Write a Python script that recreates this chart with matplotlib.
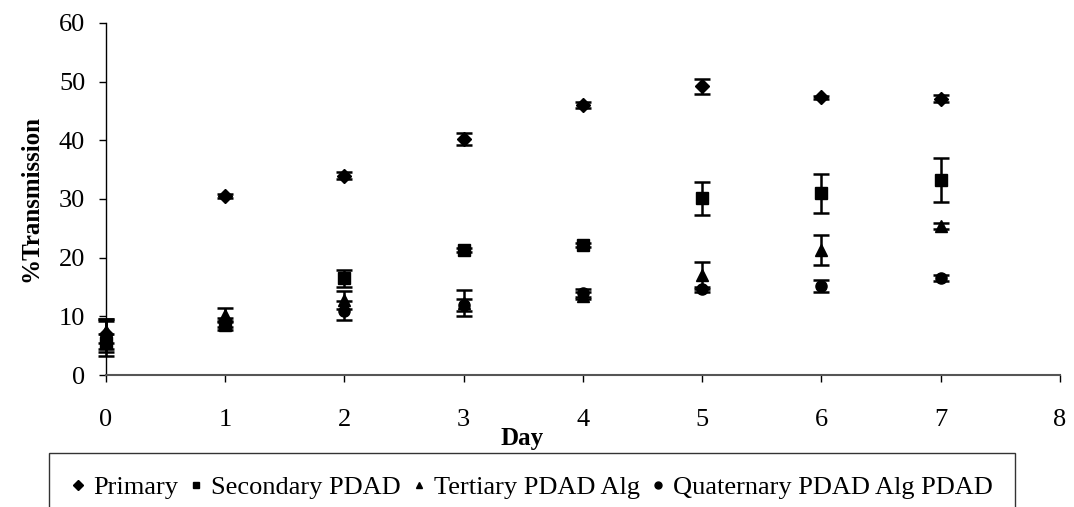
import numpy as np
import matplotlib
matplotlib.use("Agg")
import matplotlib.pyplot as plt

plt.rcParams['font.family'] = ['Liberation Serif', 'DejaVu Serif']

days = [0, 1, 2, 3, 4, 5, 6, 7]

primary = [7.0, 30.5, 34.0, 40.2, 46.0, 49.2, 47.3, 47.1]
primary_err = [2.5, 0.3, 0.6, 1.0, 0.5, 1.3, 0.3, 0.6]

secondary = [5.5, 8.5, 16.5, 21.3, 22.2, 30.1, 31.0, 33.2]
secondary_err = [1.5, 0.8, 1.4, 0.4, 0.3, 2.8, 3.3, 3.7]

tertiary = [7.5, 10.3, 12.8, 12.3, 13.5, 17.0, 21.3, 25.4]
tertiary_err = [2.0, 1.2, 1.5, 2.2, 0.6, 2.3, 2.5, 0.5]

quaternary = [6.2, 9.0, 11.0, 12.0, 14.0, 14.6, 15.2, 16.5]
quaternary_err = [3.0, 0.8, 1.6, 1.0, 0.7, 0.5, 1.0, 0.5]

labels = ['Primary', 'Secondary PDAD', 'Tertiary PDAD Alg', 'Quaternary PDAD Alg PDAD']
markers = ['D', 's', '^', 'o']

fig = plt.figure(figsize=(10.74, 5.07), dpi=100)
ax = fig.add_axes([0.0987, 0.26, 0.888, 0.695])

series = [(primary, primary_err), (secondary, secondary_err),
          (tertiary, tertiary_err), (quaternary, quaternary_err)]
handles = []
for (vals, errs), m, lab in zip(series, markers, labels):
    size = 7 if m == 'D' else 8
    eb = ax.errorbar(days, vals, yerr=errs, fmt=m, color='black', ms=size,
                     ecolor='black', elinewidth=1.8, capsize=6, capthick=1.8)
    for art in eb.get_children():
        art.set_clip_on(False)
    h, = ax.plot([], [], m, color='black', ms=5, label=lab)
    handles.append(h)

ax.set_xlim(0, 8)
ax.set_ylim(0, 60)
ax.set_xticks(range(0, 9))
ax.set_yticks(range(0, 61, 10))

for s in ['top', 'right']:
    ax.spines[s].set_visible(False)
ax.spines['left'].set_linewidth(1.0)
ax.spines['bottom'].set_color('#555555')
ax.spines['bottom'].set_linewidth(1.5)

ax.tick_params(axis='x', direction='out', length=5, width=1, pad=19, labelsize=19)
ax.tick_params(axis='y', direction='out', length=5, width=1, pad=10, labelsize=19)

# axis title sits between the 3 and 4 tick labels, a bit lower
fig.text(522 / 1074, 1 - 438 / 507, 'Day', fontsize=18, fontweight='bold',
         ha='center', va='center')
ax.set_ylabel('%Transmission', fontsize=18, fontweight='bold', labelpad=12)

leg = fig.legend(handles=handles, loc='upper left', bbox_to_anchor=(0.046, 1 - 453 / 507),
                 ncol=4, fontsize=19, frameon=True, fancybox=False,
                 edgecolor='black', handlelength=0.5, handletextpad=0.3,
                 columnspacing=0.45, borderpad=0.85, borderaxespad=0)
leg.get_frame().set_linewidth(1.0)

fig.savefig('out.png', dpi=100)
